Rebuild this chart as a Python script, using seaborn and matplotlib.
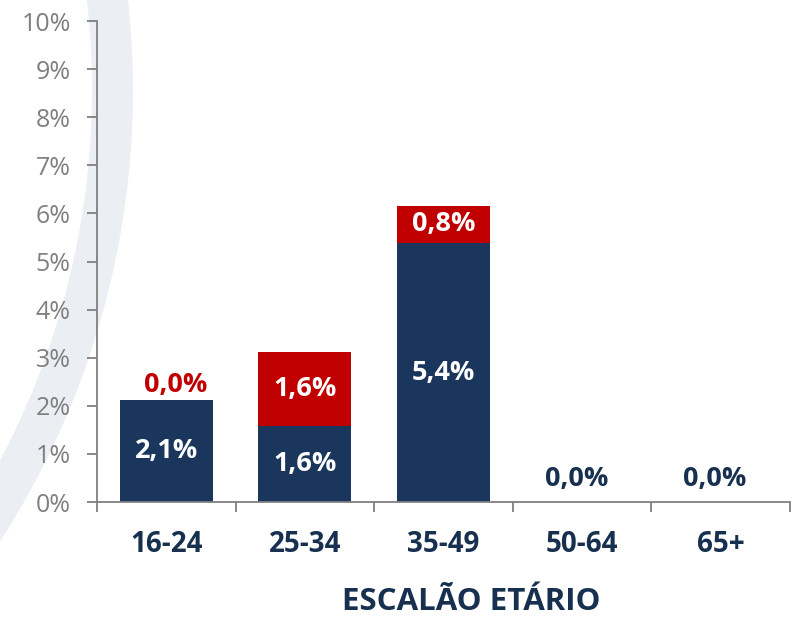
import matplotlib
matplotlib.use("Agg")
import matplotlib.pyplot as plt
from matplotlib.patches import Wedge
from matplotlib.ticker import FixedLocator, PercentFormatter
import seaborn as sns

age_groups = ["16-24", "25-34", "35-49", "50-64", "65+"]
navy_vals = [2.12, 1.57, 5.38, 0.0, 0.0]
red_vals = [0.0, 1.55, 0.78, 0.0, 0.0]
y_ticks = [0, 1, 2, 3, 4, 5, 6, 7, 8, 9, 10]

NAVY = "#1B365D"
RED = "#C00000"
DARK = "#17304F"
GRAY = "#808080"

sns.set_style("white")
plt.rcParams["font.family"] = ["Open Sans", "DejaVu Sans"]

fig = plt.figure(figsize=(7.92, 6.19), dpi=100)
ax = fig.add_axes([0.1225, 0.189, 0.875, 0.777])
ax.patch.set_alpha(0)

# faint watermark arc behind the chart
arc = Wedge((-7.0, 5.29), 8.33, -40, 20, width=0.41,
            transform=fig.dpi_scale_trans, facecolor="#EBEFF4",
            edgecolor="none", zorder=-1)
fig.add_artist(arc)

sns.barplot(x=age_groups, y=navy_vals, color=NAVY, saturation=1,
            width=0.67, linewidth=0, errorbar=None, ax=ax)
sns.barplot(x=age_groups, y=red_vals, bottom=navy_vals, color=RED,
            saturation=1, width=0.67, linewidth=0, errorbar=None, ax=ax)

def fmt(v):
    return f"{v:.1f}%".replace(".", ",")

LBL = 19.5
for i, (nv, rv) in enumerate(zip(navy_vals, red_vals)):
    if nv > 0:
        ax.text(i, nv / 2, fmt(nv), ha="center", va="center",
                color="white", fontsize=LBL, fontweight="bold")
    else:
        ax.text(i - 0.04, 0.2, fmt(nv), ha="center", va="bottom",
                color=DARK, fontsize=LBL, fontweight="bold")
    if nv + rv > 0:
        if rv > 0:
            ax.text(i, nv + rv / 2, fmt(rv), ha="center", va="center",
                    color="white", fontsize=LBL, fontweight="bold")
        else:
            # Excel-style label sitting just above the bar, slightly right
            ax.text(i + 0.07, nv + 0.05, fmt(rv), ha="center", va="bottom",
                    color=RED, fontsize=LBL, fontweight="bold")

ax.set_ylim(0, 10)
ax.set_xlim(-0.5, len(age_groups) - 0.5)
ax.set_yticks(y_ticks)
ax.yaxis.set_major_formatter(PercentFormatter(decimals=0))
ax.tick_params(axis="y", left=True, length=7, width=1.3, color=GRAY,
               labelcolor=GRAY, labelsize=18, pad=12)
ax.xaxis.set_minor_locator(FixedLocator([k - 0.5 for k in range(len(age_groups) + 1)]))
ax.tick_params(axis="x", which="major", length=0, pad=20,
               labelsize=20, labelcolor=DARK)
ax.tick_params(axis="x", which="minor", bottom=True, length=7, width=1.3, color=GRAY)
for lab in ax.get_xticklabels():
    lab.set_fontweight("bold")

for s in ["top", "right"]:
    ax.spines[s].set_visible(False)
for s in ["left", "bottom"]:
    ax.spines[s].set_color(GRAY)
    ax.spines[s].set_linewidth(1.3)

ax.set_xlabel("ESCALÃO ETÁRIO", fontsize=22.5, fontweight="bold", color=DARK, labelpad=20)
ax.xaxis.label.set_x(0.54)
ax.set_ylabel("")

fig.savefig("out.png", dpi=100)
